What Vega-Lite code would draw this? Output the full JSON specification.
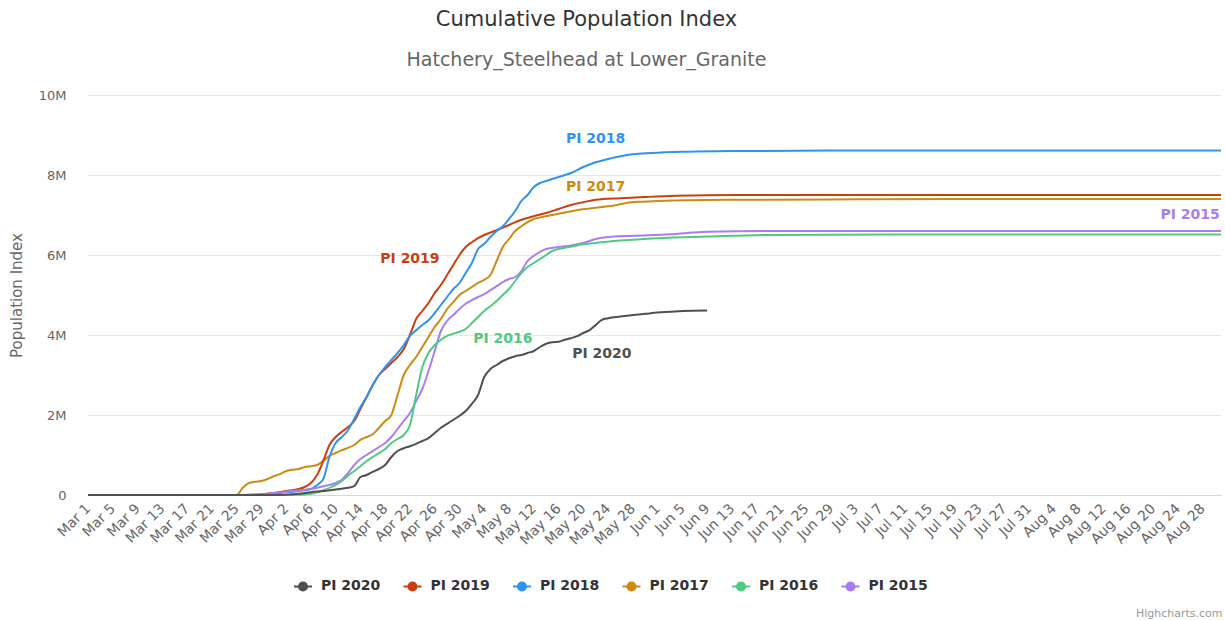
{
  "$schema": "https://vega.github.io/schema/vega-lite/v6.json",
  "width": 1133,
  "height": 400,
  "autosize": {"type": "none"},
  "padding": {"left": 88, "top": 95, "right": 4, "bottom": 125},
  "background": "white",
  "config": {"view": {"stroke": null}, "font": "DejaVu Sans"},
  "title": {
    "text": "Cumulative Population Index",
    "subtitle": "Hatchery_Steelhead at Lower_Granite",
    "anchor": "middle",
    "dx": -68,
    "font": "DejaVu Sans",
    "fontSize": 21,
    "fontWeight": "normal",
    "color": "#333333",
    "subtitleFont": "DejaVu Sans",
    "subtitleFontSize": 19,
    "subtitleColor": "#666666",
    "subtitlePadding": 21,
    "offset": 19
  },
  "datasets": {
    "labels": [
      {"s": "PI 2018", "t": "2020-05-22", "v": 8.9},
      {"s": "PI 2017", "t": "2020-05-22", "v": 7.7},
      {"s": "PI 2019", "t": "2020-04-22", "v": 5.9},
      {"s": "PI 2016", "t": "2020-05-07", "v": 3.9},
      {"s": "PI 2020", "t": "2020-05-23", "v": 3.52},
      {"s": "PI 2015", "t": "2020-08-26", "v": 7.0}
    ]
  },
  "data": {"values": [
    {"s":"PI 2017","t":"2020-03-01","v":0},
    {"s":"PI 2017","t":"2020-03-25","v":0},
    {"s":"PI 2017","t":"2020-03-26","v":0.18},
    {"s":"PI 2017","t":"2020-03-27","v":0.3},
    {"s":"PI 2017","t":"2020-03-28","v":0.33},
    {"s":"PI 2017","t":"2020-03-29","v":0.35},
    {"s":"PI 2017","t":"2020-03-30","v":0.4},
    {"s":"PI 2017","t":"2020-03-31","v":0.47},
    {"s":"PI 2017","t":"2020-04-01","v":0.52},
    {"s":"PI 2017","t":"2020-04-02","v":0.6},
    {"s":"PI 2017","t":"2020-04-03","v":0.63},
    {"s":"PI 2017","t":"2020-04-04","v":0.65},
    {"s":"PI 2017","t":"2020-04-05","v":0.7},
    {"s":"PI 2017","t":"2020-04-06","v":0.72},
    {"s":"PI 2017","t":"2020-04-07","v":0.75},
    {"s":"PI 2017","t":"2020-04-08","v":0.85},
    {"s":"PI 2017","t":"2020-04-09","v":0.98},
    {"s":"PI 2017","t":"2020-04-10","v":1.05},
    {"s":"PI 2017","t":"2020-04-11","v":1.12},
    {"s":"PI 2017","t":"2020-04-12","v":1.18},
    {"s":"PI 2017","t":"2020-04-13","v":1.25},
    {"s":"PI 2017","t":"2020-04-14","v":1.38},
    {"s":"PI 2017","t":"2020-04-15","v":1.45},
    {"s":"PI 2017","t":"2020-04-16","v":1.52},
    {"s":"PI 2017","t":"2020-04-17","v":1.68},
    {"s":"PI 2017","t":"2020-04-18","v":1.85},
    {"s":"PI 2017","t":"2020-04-19","v":2.0},
    {"s":"PI 2017","t":"2020-04-20","v":2.5},
    {"s":"PI 2017","t":"2020-04-21","v":3.0},
    {"s":"PI 2017","t":"2020-04-22","v":3.25},
    {"s":"PI 2017","t":"2020-04-23","v":3.45},
    {"s":"PI 2017","t":"2020-04-24","v":3.7},
    {"s":"PI 2017","t":"2020-04-25","v":3.95},
    {"s":"PI 2017","t":"2020-04-26","v":4.2},
    {"s":"PI 2017","t":"2020-04-27","v":4.4},
    {"s":"PI 2017","t":"2020-04-28","v":4.65},
    {"s":"PI 2017","t":"2020-04-29","v":4.82},
    {"s":"PI 2017","t":"2020-04-30","v":5.0},
    {"s":"PI 2017","t":"2020-05-01","v":5.1},
    {"s":"PI 2017","t":"2020-05-02","v":5.2},
    {"s":"PI 2017","t":"2020-05-03","v":5.3},
    {"s":"PI 2017","t":"2020-05-04","v":5.38},
    {"s":"PI 2017","t":"2020-05-05","v":5.5},
    {"s":"PI 2017","t":"2020-05-06","v":5.85},
    {"s":"PI 2017","t":"2020-05-07","v":6.2},
    {"s":"PI 2017","t":"2020-05-08","v":6.4},
    {"s":"PI 2017","t":"2020-05-09","v":6.6},
    {"s":"PI 2017","t":"2020-05-10","v":6.72},
    {"s":"PI 2017","t":"2020-05-11","v":6.82},
    {"s":"PI 2017","t":"2020-05-12","v":6.9},
    {"s":"PI 2017","t":"2020-05-13","v":6.94},
    {"s":"PI 2017","t":"2020-05-15","v":7.0},
    {"s":"PI 2017","t":"2020-05-17","v":7.06},
    {"s":"PI 2017","t":"2020-05-19","v":7.12},
    {"s":"PI 2017","t":"2020-05-21","v":7.16},
    {"s":"PI 2017","t":"2020-05-23","v":7.2},
    {"s":"PI 2017","t":"2020-05-25","v":7.24},
    {"s":"PI 2017","t":"2020-05-27","v":7.3},
    {"s":"PI 2017","t":"2020-05-29","v":7.33},
    {"s":"PI 2017","t":"2020-06-01","v":7.35},
    {"s":"PI 2017","t":"2020-06-06","v":7.37},
    {"s":"PI 2017","t":"2020-06-14","v":7.38},
    {"s":"PI 2017","t":"2020-06-29","v":7.39},
    {"s":"PI 2017","t":"2020-07-19","v":7.4},
    {"s":"PI 2017","t":"2020-08-31","v":7.4},

    {"s":"PI 2019","t":"2020-03-01","v":0},
    {"s":"PI 2019","t":"2020-03-26","v":0},
    {"s":"PI 2019","t":"2020-03-29","v":0.02},
    {"s":"PI 2019","t":"2020-03-31","v":0.05},
    {"s":"PI 2019","t":"2020-04-02","v":0.1},
    {"s":"PI 2019","t":"2020-04-04","v":0.15},
    {"s":"PI 2019","t":"2020-04-05","v":0.2},
    {"s":"PI 2019","t":"2020-04-06","v":0.3},
    {"s":"PI 2019","t":"2020-04-07","v":0.5},
    {"s":"PI 2019","t":"2020-04-08","v":0.85},
    {"s":"PI 2019","t":"2020-04-09","v":1.25},
    {"s":"PI 2019","t":"2020-04-10","v":1.45},
    {"s":"PI 2019","t":"2020-04-11","v":1.58},
    {"s":"PI 2019","t":"2020-04-12","v":1.7},
    {"s":"PI 2019","t":"2020-04-13","v":1.85},
    {"s":"PI 2019","t":"2020-04-14","v":2.15},
    {"s":"PI 2019","t":"2020-04-15","v":2.45},
    {"s":"PI 2019","t":"2020-04-16","v":2.75},
    {"s":"PI 2019","t":"2020-04-17","v":3.0},
    {"s":"PI 2019","t":"2020-04-18","v":3.15},
    {"s":"PI 2019","t":"2020-04-19","v":3.3},
    {"s":"PI 2019","t":"2020-04-20","v":3.45},
    {"s":"PI 2019","t":"2020-04-21","v":3.65},
    {"s":"PI 2019","t":"2020-04-22","v":4.0},
    {"s":"PI 2019","t":"2020-04-23","v":4.4},
    {"s":"PI 2019","t":"2020-04-24","v":4.6},
    {"s":"PI 2019","t":"2020-04-25","v":4.8},
    {"s":"PI 2019","t":"2020-04-26","v":5.05},
    {"s":"PI 2019","t":"2020-04-27","v":5.25},
    {"s":"PI 2019","t":"2020-04-28","v":5.5},
    {"s":"PI 2019","t":"2020-04-29","v":5.75},
    {"s":"PI 2019","t":"2020-04-30","v":6.0},
    {"s":"PI 2019","t":"2020-05-01","v":6.2},
    {"s":"PI 2019","t":"2020-05-02","v":6.32},
    {"s":"PI 2019","t":"2020-05-03","v":6.42},
    {"s":"PI 2019","t":"2020-05-04","v":6.5},
    {"s":"PI 2019","t":"2020-05-06","v":6.62},
    {"s":"PI 2019","t":"2020-05-08","v":6.75},
    {"s":"PI 2019","t":"2020-05-10","v":6.88},
    {"s":"PI 2019","t":"2020-05-12","v":6.97},
    {"s":"PI 2019","t":"2020-05-14","v":7.05},
    {"s":"PI 2019","t":"2020-05-16","v":7.15},
    {"s":"PI 2019","t":"2020-05-18","v":7.25},
    {"s":"PI 2019","t":"2020-05-20","v":7.32},
    {"s":"PI 2019","t":"2020-05-22","v":7.38},
    {"s":"PI 2019","t":"2020-05-26","v":7.42},
    {"s":"PI 2019","t":"2020-05-30","v":7.45},
    {"s":"PI 2019","t":"2020-06-04","v":7.48},
    {"s":"PI 2019","t":"2020-06-14","v":7.5},
    {"s":"PI 2019","t":"2020-08-31","v":7.5},

    {"s":"PI 2018","t":"2020-03-01","v":0},
    {"s":"PI 2018","t":"2020-03-29","v":0},
    {"s":"PI 2018","t":"2020-04-01","v":0.05},
    {"s":"PI 2018","t":"2020-04-04","v":0.1},
    {"s":"PI 2018","t":"2020-04-06","v":0.15},
    {"s":"PI 2018","t":"2020-04-07","v":0.25},
    {"s":"PI 2018","t":"2020-04-08","v":0.4},
    {"s":"PI 2018","t":"2020-04-09","v":0.95},
    {"s":"PI 2018","t":"2020-04-10","v":1.3},
    {"s":"PI 2018","t":"2020-04-11","v":1.45},
    {"s":"PI 2018","t":"2020-04-12","v":1.62},
    {"s":"PI 2018","t":"2020-04-13","v":1.9},
    {"s":"PI 2018","t":"2020-04-14","v":2.2},
    {"s":"PI 2018","t":"2020-04-15","v":2.45},
    {"s":"PI 2018","t":"2020-04-16","v":2.75},
    {"s":"PI 2018","t":"2020-04-17","v":3.0},
    {"s":"PI 2018","t":"2020-04-18","v":3.2},
    {"s":"PI 2018","t":"2020-04-19","v":3.38},
    {"s":"PI 2018","t":"2020-04-20","v":3.55},
    {"s":"PI 2018","t":"2020-04-21","v":3.75},
    {"s":"PI 2018","t":"2020-04-22","v":3.98},
    {"s":"PI 2018","t":"2020-04-23","v":4.12},
    {"s":"PI 2018","t":"2020-04-24","v":4.25},
    {"s":"PI 2018","t":"2020-04-25","v":4.37},
    {"s":"PI 2018","t":"2020-04-26","v":4.55},
    {"s":"PI 2018","t":"2020-04-27","v":4.75},
    {"s":"PI 2018","t":"2020-04-28","v":4.95},
    {"s":"PI 2018","t":"2020-04-29","v":5.15},
    {"s":"PI 2018","t":"2020-04-30","v":5.3},
    {"s":"PI 2018","t":"2020-05-01","v":5.55},
    {"s":"PI 2018","t":"2020-05-02","v":5.8},
    {"s":"PI 2018","t":"2020-05-03","v":6.15},
    {"s":"PI 2018","t":"2020-05-04","v":6.28},
    {"s":"PI 2018","t":"2020-05-05","v":6.45},
    {"s":"PI 2018","t":"2020-05-06","v":6.6},
    {"s":"PI 2018","t":"2020-05-07","v":6.72},
    {"s":"PI 2018","t":"2020-05-08","v":6.9},
    {"s":"PI 2018","t":"2020-05-09","v":7.1},
    {"s":"PI 2018","t":"2020-05-10","v":7.35},
    {"s":"PI 2018","t":"2020-05-11","v":7.5},
    {"s":"PI 2018","t":"2020-05-12","v":7.7},
    {"s":"PI 2018","t":"2020-05-13","v":7.8},
    {"s":"PI 2018","t":"2020-05-14","v":7.85},
    {"s":"PI 2018","t":"2020-05-16","v":7.95},
    {"s":"PI 2018","t":"2020-05-18","v":8.05},
    {"s":"PI 2018","t":"2020-05-20","v":8.2},
    {"s":"PI 2018","t":"2020-05-22","v":8.32},
    {"s":"PI 2018","t":"2020-05-24","v":8.4},
    {"s":"PI 2018","t":"2020-05-26","v":8.47},
    {"s":"PI 2018","t":"2020-05-28","v":8.52},
    {"s":"PI 2018","t":"2020-05-31","v":8.55},
    {"s":"PI 2018","t":"2020-06-05","v":8.58},
    {"s":"PI 2018","t":"2020-06-14","v":8.6},
    {"s":"PI 2018","t":"2020-06-29","v":8.61},
    {"s":"PI 2018","t":"2020-08-31","v":8.61},

    {"s":"PI 2015","t":"2020-03-01","v":0},
    {"s":"PI 2015","t":"2020-03-27","v":0},
    {"s":"PI 2015","t":"2020-03-31","v":0.05},
    {"s":"PI 2015","t":"2020-04-03","v":0.1},
    {"s":"PI 2015","t":"2020-04-06","v":0.15},
    {"s":"PI 2015","t":"2020-04-08","v":0.22},
    {"s":"PI 2015","t":"2020-04-10","v":0.3},
    {"s":"PI 2015","t":"2020-04-11","v":0.38},
    {"s":"PI 2015","t":"2020-04-12","v":0.55},
    {"s":"PI 2015","t":"2020-04-13","v":0.75},
    {"s":"PI 2015","t":"2020-04-14","v":0.9},
    {"s":"PI 2015","t":"2020-04-15","v":1.0},
    {"s":"PI 2015","t":"2020-04-16","v":1.1},
    {"s":"PI 2015","t":"2020-04-17","v":1.2},
    {"s":"PI 2015","t":"2020-04-18","v":1.3},
    {"s":"PI 2015","t":"2020-04-19","v":1.45},
    {"s":"PI 2015","t":"2020-04-20","v":1.65},
    {"s":"PI 2015","t":"2020-04-21","v":1.85},
    {"s":"PI 2015","t":"2020-04-22","v":2.05},
    {"s":"PI 2015","t":"2020-04-23","v":2.35},
    {"s":"PI 2015","t":"2020-04-24","v":2.65},
    {"s":"PI 2015","t":"2020-04-25","v":3.1},
    {"s":"PI 2015","t":"2020-04-26","v":3.6},
    {"s":"PI 2015","t":"2020-04-27","v":4.1},
    {"s":"PI 2015","t":"2020-04-28","v":4.35},
    {"s":"PI 2015","t":"2020-04-29","v":4.5},
    {"s":"PI 2015","t":"2020-04-30","v":4.65},
    {"s":"PI 2015","t":"2020-05-01","v":4.78},
    {"s":"PI 2015","t":"2020-05-02","v":4.87},
    {"s":"PI 2015","t":"2020-05-03","v":4.95},
    {"s":"PI 2015","t":"2020-05-04","v":5.02},
    {"s":"PI 2015","t":"2020-05-05","v":5.12},
    {"s":"PI 2015","t":"2020-05-06","v":5.22},
    {"s":"PI 2015","t":"2020-05-07","v":5.32},
    {"s":"PI 2015","t":"2020-05-08","v":5.4},
    {"s":"PI 2015","t":"2020-05-09","v":5.45},
    {"s":"PI 2015","t":"2020-05-10","v":5.6},
    {"s":"PI 2015","t":"2020-05-11","v":5.85},
    {"s":"PI 2015","t":"2020-05-12","v":5.98},
    {"s":"PI 2015","t":"2020-05-13","v":6.08},
    {"s":"PI 2015","t":"2020-05-14","v":6.15},
    {"s":"PI 2015","t":"2020-05-16","v":6.2},
    {"s":"PI 2015","t":"2020-05-18","v":6.24},
    {"s":"PI 2015","t":"2020-05-20","v":6.3},
    {"s":"PI 2015","t":"2020-05-22","v":6.4},
    {"s":"PI 2015","t":"2020-05-24","v":6.45},
    {"s":"PI 2015","t":"2020-05-28","v":6.48},
    {"s":"PI 2015","t":"2020-06-03","v":6.52},
    {"s":"PI 2015","t":"2020-06-09","v":6.58},
    {"s":"PI 2015","t":"2020-06-19","v":6.6},
    {"s":"PI 2015","t":"2020-08-31","v":6.6},

    {"s":"PI 2016","t":"2020-03-01","v":0},
    {"s":"PI 2016","t":"2020-04-03","v":0},
    {"s":"PI 2016","t":"2020-04-06","v":0.03},
    {"s":"PI 2016","t":"2020-04-08","v":0.12},
    {"s":"PI 2016","t":"2020-04-10","v":0.25},
    {"s":"PI 2016","t":"2020-04-11","v":0.35},
    {"s":"PI 2016","t":"2020-04-12","v":0.48},
    {"s":"PI 2016","t":"2020-04-13","v":0.6},
    {"s":"PI 2016","t":"2020-04-14","v":0.72},
    {"s":"PI 2016","t":"2020-04-15","v":0.85},
    {"s":"PI 2016","t":"2020-04-16","v":0.95},
    {"s":"PI 2016","t":"2020-04-17","v":1.05},
    {"s":"PI 2016","t":"2020-04-18","v":1.15},
    {"s":"PI 2016","t":"2020-04-19","v":1.3},
    {"s":"PI 2016","t":"2020-04-20","v":1.4},
    {"s":"PI 2016","t":"2020-04-21","v":1.5},
    {"s":"PI 2016","t":"2020-04-22","v":1.75},
    {"s":"PI 2016","t":"2020-04-23","v":2.5},
    {"s":"PI 2016","t":"2020-04-24","v":3.2},
    {"s":"PI 2016","t":"2020-04-25","v":3.55},
    {"s":"PI 2016","t":"2020-04-26","v":3.75},
    {"s":"PI 2016","t":"2020-04-27","v":3.88},
    {"s":"PI 2016","t":"2020-04-28","v":3.98},
    {"s":"PI 2016","t":"2020-04-29","v":4.03},
    {"s":"PI 2016","t":"2020-04-30","v":4.08},
    {"s":"PI 2016","t":"2020-05-01","v":4.15},
    {"s":"PI 2016","t":"2020-05-02","v":4.3},
    {"s":"PI 2016","t":"2020-05-03","v":4.45},
    {"s":"PI 2016","t":"2020-05-04","v":4.6},
    {"s":"PI 2016","t":"2020-05-05","v":4.72},
    {"s":"PI 2016","t":"2020-05-06","v":4.85},
    {"s":"PI 2016","t":"2020-05-07","v":5.0},
    {"s":"PI 2016","t":"2020-05-08","v":5.15},
    {"s":"PI 2016","t":"2020-05-09","v":5.35},
    {"s":"PI 2016","t":"2020-05-10","v":5.55},
    {"s":"PI 2016","t":"2020-05-11","v":5.7},
    {"s":"PI 2016","t":"2020-05-12","v":5.8},
    {"s":"PI 2016","t":"2020-05-13","v":5.9},
    {"s":"PI 2016","t":"2020-05-14","v":6.0},
    {"s":"PI 2016","t":"2020-05-15","v":6.1},
    {"s":"PI 2016","t":"2020-05-17","v":6.18},
    {"s":"PI 2016","t":"2020-05-19","v":6.24},
    {"s":"PI 2016","t":"2020-05-22","v":6.3},
    {"s":"PI 2016","t":"2020-05-26","v":6.36},
    {"s":"PI 2016","t":"2020-06-01","v":6.42},
    {"s":"PI 2016","t":"2020-06-09","v":6.46},
    {"s":"PI 2016","t":"2020-06-19","v":6.5},
    {"s":"PI 2016","t":"2020-07-09","v":6.51},
    {"s":"PI 2016","t":"2020-08-31","v":6.51},

    {"s":"PI 2020","t":"2020-03-01","v":0},
    {"s":"PI 2020","t":"2020-03-31","v":0},
    {"s":"PI 2020","t":"2020-04-04","v":0.03},
    {"s":"PI 2020","t":"2020-04-06","v":0.07},
    {"s":"PI 2020","t":"2020-04-08","v":0.1},
    {"s":"PI 2020","t":"2020-04-10","v":0.14},
    {"s":"PI 2020","t":"2020-04-12","v":0.18},
    {"s":"PI 2020","t":"2020-04-13","v":0.22},
    {"s":"PI 2020","t":"2020-04-14","v":0.45},
    {"s":"PI 2020","t":"2020-04-15","v":0.5},
    {"s":"PI 2020","t":"2020-04-16","v":0.58},
    {"s":"PI 2020","t":"2020-04-17","v":0.65},
    {"s":"PI 2020","t":"2020-04-18","v":0.75},
    {"s":"PI 2020","t":"2020-04-19","v":0.95},
    {"s":"PI 2020","t":"2020-04-20","v":1.1},
    {"s":"PI 2020","t":"2020-04-21","v":1.17},
    {"s":"PI 2020","t":"2020-04-22","v":1.22},
    {"s":"PI 2020","t":"2020-04-23","v":1.28},
    {"s":"PI 2020","t":"2020-04-24","v":1.35},
    {"s":"PI 2020","t":"2020-04-25","v":1.42},
    {"s":"PI 2020","t":"2020-04-26","v":1.55},
    {"s":"PI 2020","t":"2020-04-27","v":1.68},
    {"s":"PI 2020","t":"2020-04-28","v":1.78},
    {"s":"PI 2020","t":"2020-04-29","v":1.88},
    {"s":"PI 2020","t":"2020-04-30","v":1.98},
    {"s":"PI 2020","t":"2020-05-01","v":2.1},
    {"s":"PI 2020","t":"2020-05-02","v":2.28},
    {"s":"PI 2020","t":"2020-05-03","v":2.5},
    {"s":"PI 2020","t":"2020-05-04","v":2.95},
    {"s":"PI 2020","t":"2020-05-05","v":3.15},
    {"s":"PI 2020","t":"2020-05-06","v":3.25},
    {"s":"PI 2020","t":"2020-05-07","v":3.35},
    {"s":"PI 2020","t":"2020-05-08","v":3.42},
    {"s":"PI 2020","t":"2020-05-09","v":3.47},
    {"s":"PI 2020","t":"2020-05-10","v":3.5},
    {"s":"PI 2020","t":"2020-05-11","v":3.55},
    {"s":"PI 2020","t":"2020-05-12","v":3.6},
    {"s":"PI 2020","t":"2020-05-13","v":3.7},
    {"s":"PI 2020","t":"2020-05-14","v":3.78},
    {"s":"PI 2020","t":"2020-05-15","v":3.82},
    {"s":"PI 2020","t":"2020-05-16","v":3.83},
    {"s":"PI 2020","t":"2020-05-17","v":3.88},
    {"s":"PI 2020","t":"2020-05-18","v":3.92},
    {"s":"PI 2020","t":"2020-05-19","v":3.97},
    {"s":"PI 2020","t":"2020-05-20","v":4.05},
    {"s":"PI 2020","t":"2020-05-21","v":4.12},
    {"s":"PI 2020","t":"2020-05-22","v":4.25},
    {"s":"PI 2020","t":"2020-05-23","v":4.38},
    {"s":"PI 2020","t":"2020-05-24","v":4.42},
    {"s":"PI 2020","t":"2020-05-26","v":4.46},
    {"s":"PI 2020","t":"2020-05-28","v":4.5},
    {"s":"PI 2020","t":"2020-05-30","v":4.53},
    {"s":"PI 2020","t":"2020-06-01","v":4.56},
    {"s":"PI 2020","t":"2020-06-03","v":4.58},
    {"s":"PI 2020","t":"2020-06-05","v":4.6},
    {"s":"PI 2020","t":"2020-06-09","v":4.61}
  ]},
  "encoding": {
    "x": {
      "field": "t",
      "type": "temporal",
      "scale": {
        "type": "utc",
        "domain": [
          {"year": 2020, "month": 3, "date": 1, "utc": true},
          {"year": 2020, "month": 8, "date": 31, "utc": true}
        ]
      },
      "axis": {
        "title": "Highcharts.com",
        "titleFont": "DejaVu Sans",
        "titleFontSize": 11,
        "titleFontWeight": "normal",
        "titleColor": "#999999",
        "titleAnchor": "end",
        "titleAlign": "right",
        "titleBaseline": "alphabetic",
        "titleX": 1134,
        "titleY": 121,
        "format": "%b %-d",
        "labelAngle": -45,
        "labelAlign": "right",
        "labelBaseline": "middle",
        "labelPadding": 11,
        "labelFont": "DejaVu Sans",
        "labelFontSize": 14,
        "labelColor": "#666666",
        "labelOverlap": false,
        "labelBound": false,
        "labelFlush": false,
        "ticks": false,
        "grid": false,
        "domainColor": "#ccd6eb",
        "domainWidth": 1,
        "values": [
          {"year":2020,"month":3,"date":1,"utc":true},
          {"year":2020,"month":3,"date":5,"utc":true},
          {"year":2020,"month":3,"date":9,"utc":true},
          {"year":2020,"month":3,"date":13,"utc":true},
          {"year":2020,"month":3,"date":17,"utc":true},
          {"year":2020,"month":3,"date":21,"utc":true},
          {"year":2020,"month":3,"date":25,"utc":true},
          {"year":2020,"month":3,"date":29,"utc":true},
          {"year":2020,"month":4,"date":2,"utc":true},
          {"year":2020,"month":4,"date":6,"utc":true},
          {"year":2020,"month":4,"date":10,"utc":true},
          {"year":2020,"month":4,"date":14,"utc":true},
          {"year":2020,"month":4,"date":18,"utc":true},
          {"year":2020,"month":4,"date":22,"utc":true},
          {"year":2020,"month":4,"date":26,"utc":true},
          {"year":2020,"month":4,"date":30,"utc":true},
          {"year":2020,"month":5,"date":4,"utc":true},
          {"year":2020,"month":5,"date":8,"utc":true},
          {"year":2020,"month":5,"date":12,"utc":true},
          {"year":2020,"month":5,"date":16,"utc":true},
          {"year":2020,"month":5,"date":20,"utc":true},
          {"year":2020,"month":5,"date":24,"utc":true},
          {"year":2020,"month":5,"date":28,"utc":true},
          {"year":2020,"month":6,"date":1,"utc":true},
          {"year":2020,"month":6,"date":5,"utc":true},
          {"year":2020,"month":6,"date":9,"utc":true},
          {"year":2020,"month":6,"date":13,"utc":true},
          {"year":2020,"month":6,"date":17,"utc":true},
          {"year":2020,"month":6,"date":21,"utc":true},
          {"year":2020,"month":6,"date":25,"utc":true},
          {"year":2020,"month":6,"date":29,"utc":true},
          {"year":2020,"month":7,"date":3,"utc":true},
          {"year":2020,"month":7,"date":7,"utc":true},
          {"year":2020,"month":7,"date":11,"utc":true},
          {"year":2020,"month":7,"date":15,"utc":true},
          {"year":2020,"month":7,"date":19,"utc":true},
          {"year":2020,"month":7,"date":23,"utc":true},
          {"year":2020,"month":7,"date":27,"utc":true},
          {"year":2020,"month":7,"date":31,"utc":true},
          {"year":2020,"month":8,"date":4,"utc":true},
          {"year":2020,"month":8,"date":8,"utc":true},
          {"year":2020,"month":8,"date":12,"utc":true},
          {"year":2020,"month":8,"date":16,"utc":true},
          {"year":2020,"month":8,"date":20,"utc":true},
          {"year":2020,"month":8,"date":24,"utc":true},
          {"year":2020,"month":8,"date":28,"utc":true}
        ]
      }
    },
    "y": {
      "field": "v",
      "type": "quantitative",
      "scale": {"domain": [0, 10], "nice": false},
      "axis": {
        "title": "Population Index",
        "titleFont": "DejaVu Sans",
        "titleFontSize": 15,
        "titleFontWeight": "normal",
        "titleColor": "#666666",
        "titlePadding": 14,
        "values": [0, 2, 4, 6, 8, 10],
        "labelExpr": "datum.value === 0 ? '0' : datum.value + 'M'",
        "labelFont": "DejaVu Sans",
        "labelFontSize": 13,
        "labelColor": "#666666",
        "labelPadding": 22,
        "ticks": false,
        "domain": false,
        "grid": true,
        "gridColor": "#e6e6e6",
        "gridWidth": 1
      }
    }
  },
  "layer": [
    {
      "mark": {"type": "line", "strokeWidth": 2, "interpolate": "monotone"},
      "encoding": {
        "color": {
          "field": "s",
          "type": "nominal",
          "scale": {
            "domain": ["PI 2020", "PI 2019", "PI 2018", "PI 2017", "PI 2016", "PI 2015"],
            "range": ["#505050", "#c8400f", "#3093ee", "#cf8a12", "#4ecb80", "#a77ef0"]
          },
          "legend": {
            "orient": "none",
            "legendX": 205,
            "legendY": 481,
            "direction": "horizontal",
            "title": null,
            "labelFont": "DejaVu Sans",
            "labelFontSize": 14,
            "labelFontWeight": "bold",
            "labelColor": "#333333",
            "symbolType": "M-1,0H1M-0.45,0A0.45,0.45,0,1,1,0.45,0A0.45,0.45,0,1,1,-0.45,0",
            "symbolSize": 324,
            "symbolStrokeWidth": 2,
            "labelOffset": 8,
            "columnPadding": 18.5,
            "encode": {"symbols": {"update": {"fill": {"scale": "color", "field": "value"}}}}
          }
        }
      }
    },
    {
      "data": {"name": "labels"},
      "mark": {"type": "text", "font": "DejaVu Sans", "fontSize": 14, "fontWeight": "bold", "align": "center", "baseline": "middle"},
      "encoding": {
        "text": {"field": "s"},
        "color": {"field": "s", "type": "nominal", "legend": null}
      }
    }
  ]
}
